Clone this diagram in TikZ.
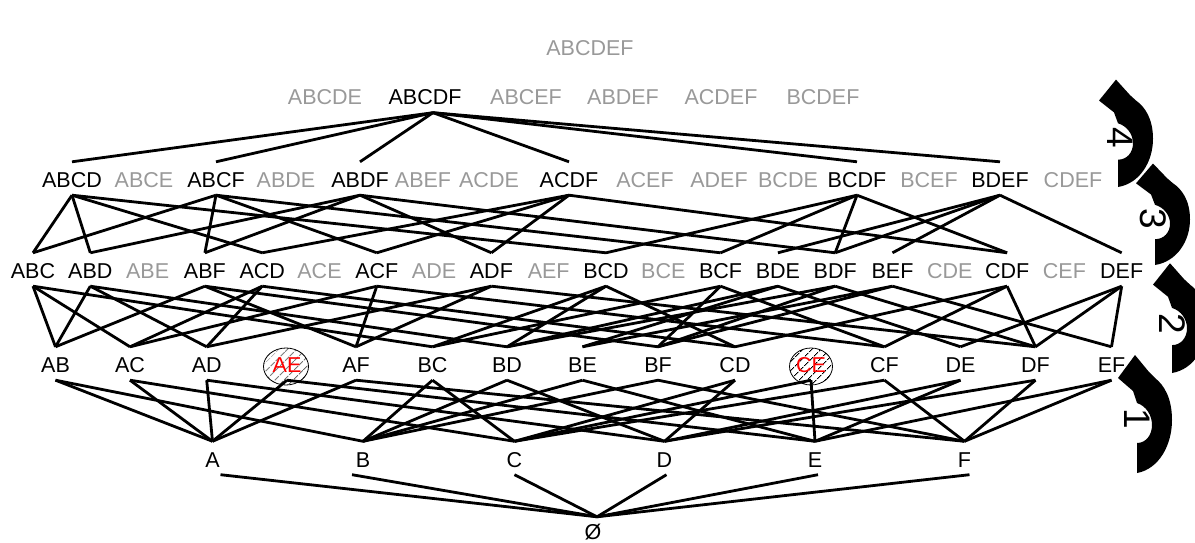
\documentclass[tikz,border=0pt]{standalone}
\usepackage{fontspec}
\setmainfont{Liberation Sans}
\usetikzlibrary{patterns.meta}
\definecolor{lg}{RGB}{153,153,153}
\tikzset{
  lab/.style={anchor=base, yshift=-7.5pt, text height=25.5pt, text depth=7.5pt, inner sep=0pt, font=\fontsize{21.5}{24}\selectfont},
  off/.style={lab, text=lg},
  bad/.style={lab, text=red},
  edge/.style={line width=2.8pt},
  num/.style={rotate=-90, font=\fontsize{37}{40}\selectfont, inner sep=0pt},
  hatch/.style={line width=0.8pt, pattern={Lines[angle=45,distance=6.5pt,line width=0.8pt]}},
  curvarrow/.pic={\fill (0,0) .. controls (22,-4) and (35,-28) .. (35,-53) .. controls (35,-75) and (27,-88) .. (18,-95) -- (12,-101) -- (-2,-118) -- (-19,-95) -- (-4,-82) -- (0,-70) .. controls (9,-67) and (15,-58) .. (15,-48) .. controls (15,-38) and (9,-30) .. (0,-30) -- cycle;}
}
\begin{document}
\begin{tikzpicture}[x=1pt,y=-1pt]
\useasboundingbox (0,0) rectangle (1195,543);
% hatched circles of the pruned pairs
\draw[hatch] (286,366.5) ellipse [x radius=22.5pt, y radius=18.5pt];
\draw[hatch] (811,366.5) ellipse [x radius=21.5pt, y radius=18.5pt];
% row 6
\node[off] (ABCDEF) at (590,48) {ABCDEF};
% row 5
\node[off] (ABCDE) at (325,97.5) {ABCDE};
\node[lab] (ABCDF) at (425,97.5) {ABCDF};
\node[off] (ABCEF) at (526,97.5) {ABCEF};
\node[off] (ABDEF) at (623,97.5) {ABDEF};
\node[off] (ACDEF) at (721,97.5) {ACDEF};
\node[off] (BCDEF) at (823,97.5) {BCDEF};
% row 4
\node[lab] (ABCD) at (72,180) {ABCD};
\node[off] (ABCE) at (144,180) {ABCE};
\node[lab] (ABCF) at (216,180) {ABCF};
\node[off] (ABDE) at (286,180) {ABDE};
\node[lab] (ABDF) at (360,180) {ABDF};
\node[off] (ABEF) at (423,180) {ABEF};
\node[off] (ACDE) at (489,180) {ACDE};
\node[lab] (ACDF) at (569,180) {ACDF};
\node[off] (ACEF) at (645,180) {ACEF};
\node[off] (ADEF) at (719,180) {ADEF};
\node[off] (BCDE) at (788,180) {BCDE};
\node[lab] (BCDF) at (857,180) {BCDF};
\node[off] (BCEF) at (929,180) {BCEF};
\node[lab] (BDEF) at (1000,180) {BDEF};
\node[off] (CDEF) at (1073,180) {CDEF};
% row 3
\node[lab] (ABC) at (33,271) {ABC};
\node[lab] (ABD) at (90.3,271) {ABD};
\node[off] (ABE) at (147.6,271) {ABE};
\node[lab] (ABF) at (204.9,271) {ABF};
\node[lab] (ACD) at (262.2,271) {ACD};
\node[off] (ACE) at (319.5,271) {ACE};
\node[lab] (ACF) at (376.8,271) {ACF};
\node[off] (ADE) at (434.1,271) {ADE};
\node[lab] (ADF) at (491.4,271) {ADF};
\node[off] (AEF) at (548.7,271) {AEF};
\node[lab] (BCD) at (606,271) {BCD};
\node[off] (BCE) at (663.3,271) {BCE};
\node[lab] (BCF) at (720.6,271) {BCF};
\node[lab] (BDE) at (777.9,271) {BDE};
\node[lab] (BDF) at (835.2,271) {BDF};
\node[lab] (BEF) at (892.5,271) {BEF};
\node[off] (CDE) at (949.8,271) {CDE};
\node[lab] (CDF) at (1007.1,271) {CDF};
\node[off] (CEF) at (1064.4,271) {CEF};
\node[lab] (DEF) at (1121.7,271) {DEF};
% row 2
\node[lab] (AB) at (55.5,365) {AB};
\node[lab] (AC) at (130,365) {AC};
\node[lab] (AD) at (206.7,365) {AD};
\node[bad] (AE) at (287,365) {AE};
\node[lab] (AF) at (356,365) {AF};
\node[lab] (BC) at (432.5,365) {BC};
\node[lab] (BD) at (507,365) {BD};
\node[lab] (BE) at (582.5,365) {BE};
\node[lab] (BF) at (658,365) {BF};
\node[lab] (CD) at (735,365) {CD};
\node[bad] (CE) at (811,365) {CE};
\node[lab] (CF) at (884.5,365) {CF};
\node[lab] (DE) at (960.5,365) {DE};
\node[lab] (DF) at (1035.5,365) {DF};
\node[lab] (EF) at (1111.5,365) {EF};
% row 1
\node[lab] (A) at (212.5,459.5) {A};
\node[lab] (B) at (363,459.5) {B};
\node[lab] (C) at (514.5,459.5) {C};
\node[lab] (D) at (664.5,459.5) {D};
\node[lab] (E) at (815,459.5) {E};
\node[lab] (F) at (964.5,459.5) {F};
% row 0
\node[lab] (O) at (593,532) {Ø};
% shifted attachment points
\coordinate (ABCDFs) at ([xshift=8pt]ABCDF.south);
\coordinate (As) at ([xshift=8pt]A.south);
\coordinate (Bs) at ([xshift=-11pt]B.south);
\coordinate (Cs) at (C.south);
\coordinate (Ds) at ([xshift=2pt]D.south);
\coordinate (Es) at ([xshift=3pt]E.south);
\coordinate (Fs) at ([xshift=5pt]F.south);
\coordinate (On) at ([xshift=4pt,yshift=-3pt]O.north);
% edges 5 -> 4
\foreach \l in {ABCD,ABCF,ABDF,ACDF,BCDF,BDEF}
  \draw[edge] (ABCDFs) -- (\l.north);
% edges 4 -> 3
\foreach \u/\l in {ABCD/ABC,ABCD/ABD,ABCD/ACD,ABCD/BCD,
  ABCF/ABC,ABCF/ABF,ABCF/ACF,ABCF/BCF,
  ABDF/ABD,ABDF/ABF,ABDF/ADF,ABDF/BDF,
  ACDF/ACD,ACDF/ACF,ACDF/ADF,ACDF/CDF,
  BCDF/BCD,BCDF/BCF,BCDF/BDF,BCDF/CDF,
  BDEF/BDE,BDEF/BDF,BDEF/BEF,BDEF/DEF}
  \draw[edge] (\u.south) -- (\l.north);
% edges 3 -> 2
\foreach \u/\l in {ABC/AB,ABC/AC,ABC/BC,
  ABD/AB,ABD/AD,ABD/BD,
  ABF/AB,ABF/AF,ABF/BF,
  ACD/AC,ACD/AD,ACD/CD,
  ACF/AC,ACF/AF,ACF/CF,
  ADF/AD,ADF/AF,ADF/DF,
  BCD/BC,BCD/BD,BCD/CD,
  BCF/BC,BCF/BF,BCF/CF,
  BDE/BD,BDE/BE,BDE/DE,
  BDF/BD,BDF/BF,BDF/DF,
  BEF/BE,BEF/BF,BEF/EF,
  CDF/CD,CDF/CF,CDF/DF,
  DEF/DE,DEF/DF,DEF/EF}
  \draw[edge] (\u.south) -- (\l.north);
% edges 2 -> 1
\foreach \u/\l in {AB/A,AB/B,AC/A,AC/C,AD/A,AD/D,AE/A,AE/E,AF/A,AF/F,
  BC/B,BC/C,BD/B,BD/D,BE/B,BE/E,BF/B,BF/F,
  CD/C,CD/D,CE/C,CE/E,CF/C,CF/F,
  DE/D,DE/E,DF/D,DF/F,EF/E,EF/F}
  \draw[edge] (\u.south) -- (\l.north);
% edges 1 -> 0
\foreach \u in {As,Bs,Cs,Ds,Es,Fs}
  \draw[edge] (\u) -- (On);
% level arrows
\path (1137,473) pic {curvarrow};
\path (1172,373) pic[yscale=0.93] {curvarrow};
\path (1155,265) pic[yscale=0.86] {curvarrow};
\path (1118,187) pic[yscale=0.91] {curvarrow};
\node[num] (n4) at (1120,138) {4};
\node[num] (n3) at (1153,219) {3};
\node[num] (n2) at (1172,324) {2};
\node[num] (n1) at (1137,419) {1};
\end{tikzpicture}
\end{document}
